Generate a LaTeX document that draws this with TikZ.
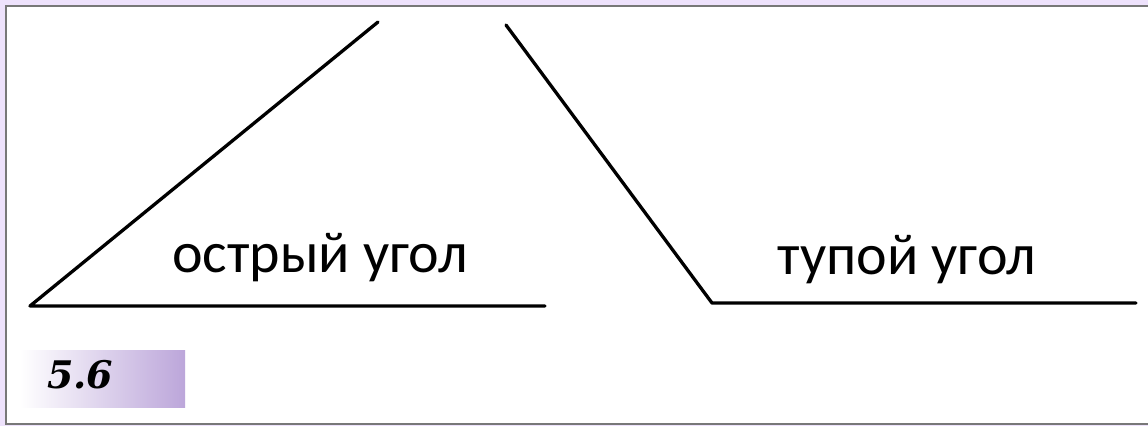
\documentclass[tikz,border=0pt]{standalone}
\usepackage{fontspec}
\setmainfont{Carlito}
\newfontfamily\labelfont{DejaVu Serif}
\definecolor{lav}{RGB}{238,226,252}
\definecolor{frame}{RGB}{120,120,120}
\definecolor{tagpurple}{RGB}{188,166,218}
\begin{document}
\begin{tikzpicture}[x=1pt,y=-1pt,
  ray/.style={line width=3.3pt,black,line cap=round,line join=round},
  caption/.style={font=\fontsize{58}{66}\selectfont,anchor=base,inner sep=0pt}]
\useasboundingbox (0,0) rectangle (1148,426);
\fill[lav] (0,0) rectangle (1148,426);
\fill[white] (6,6) rectangle (1148,424);
\draw[frame,line width=2.5pt] (1148,6) -- (6,6) -- (6,424) -- (1148,424);
% tag 5.6
\shade[left color=white,right color=tagpurple] (20,350) rectangle (185,407);
\node[font=\labelfont\fontsize{38}{42}\selectfont\bfseries\itshape,anchor=base west,inner sep=0pt] (tag) at (47,388) {5.6};
% acute angle
\coordinate (A) at (30,306);
\coordinate (A1) at (545,306);
\coordinate (A2) at (378,22);
\draw[ray] (A1) -- (A) -- (A2);
\node[caption] (acute) at (320,272) {острый угол};
% obtuse angle
\coordinate (B) at (712,303);
\coordinate (B1) at (1136,303);
\coordinate (B2) at (506,25);
\draw[ray] (B1) -- (B) -- (B2);
\node[caption] (obtuse) at (907,274) {тупой угол};
\end{tikzpicture}
\end{document}
